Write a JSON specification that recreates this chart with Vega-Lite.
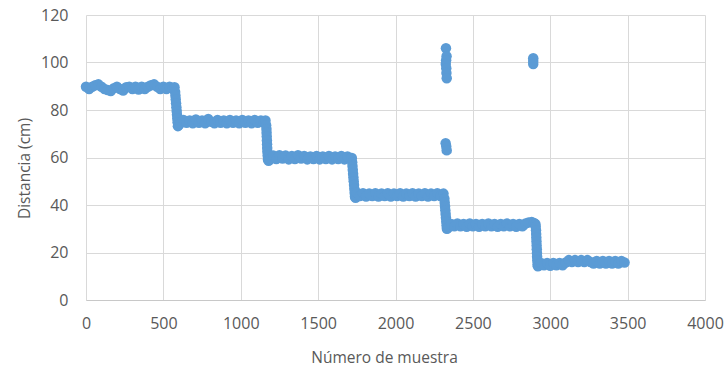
{
  "$schema": "https://vega.github.io/schema/vega-lite/v6.json",
  "width": 619,
  "height": 285,
  "autosize": {"type": "none"},
  "padding": {"left": 86, "top": 15, "right": 20, "bottom": 70},
  "background": "white",
  "config": {
    "view": {"stroke": null},
    "font": "Open Sans",
    "axis": {
      "labelColor": "#595959",
      "titleColor": "#595959",
      "labelFontSize": 16,
      "titleFontSize": 15.5,
      "titleFontWeight": "normal",
      "gridColor": "#d9d9d9",
      "gridWidth": 1,
      "ticks": false,
      "labelFlush": false
    }
  },
  "data": {
    "values": [
      {"n": 0, "d": 89.8}, {"n": 20, "d": 88.8}, {"n": 40, "d": 89.8}, {"n": 60, "d": 90.4}, {"n": 80, "d": 90.8},
      {"n": 100, "d": 89.8}, {"n": 120, "d": 88.8}, {"n": 140, "d": 88.4}, {"n": 160, "d": 88.0}, {"n": 180, "d": 89.2},
      {"n": 200, "d": 89.8}, {"n": 220, "d": 88.8}, {"n": 240, "d": 88.2}, {"n": 260, "d": 89.6}, {"n": 280, "d": 89.8},
      {"n": 300, "d": 88.8}, {"n": 320, "d": 89.8}, {"n": 340, "d": 88.6}, {"n": 360, "d": 89.8}, {"n": 380, "d": 88.8},
      {"n": 400, "d": 89.8}, {"n": 420, "d": 90.4}, {"n": 440, "d": 90.8}, {"n": 460, "d": 89.8}, {"n": 480, "d": 88.8},
      {"n": 500, "d": 89.8}, {"n": 520, "d": 88.8}, {"n": 540, "d": 89.8}, {"n": 560, "d": 89.0}, {"n": 572, "d": 89.6},
      {"n": 576, "d": 87.6}, {"n": 578, "d": 86.0}, {"n": 580, "d": 84.4}, {"n": 582, "d": 82.8}, {"n": 584, "d": 81.2},
      {"n": 586, "d": 79.6}, {"n": 588, "d": 78.0}, {"n": 590, "d": 76.4}, {"n": 592, "d": 74.8}, {"n": 594, "d": 73.2},
      {"n": 598, "d": 73.6},
      {"n": 610, "d": 74.4}, {"n": 630, "d": 75.8}, {"n": 650, "d": 74.6}, {"n": 670, "d": 75.6}, {"n": 690, "d": 74.4},
      {"n": 710, "d": 76.0}, {"n": 730, "d": 74.6}, {"n": 750, "d": 75.6}, {"n": 770, "d": 74.4}, {"n": 790, "d": 76.2},
      {"n": 810, "d": 75.0}, {"n": 830, "d": 74.4}, {"n": 850, "d": 75.8}, {"n": 870, "d": 74.6}, {"n": 890, "d": 75.6},
      {"n": 910, "d": 74.4}, {"n": 930, "d": 75.8}, {"n": 950, "d": 74.6}, {"n": 970, "d": 75.6}, {"n": 990, "d": 74.4},
      {"n": 1010, "d": 75.8}, {"n": 1030, "d": 74.6}, {"n": 1050, "d": 75.6}, {"n": 1070, "d": 74.4}, {"n": 1090, "d": 75.8},
      {"n": 1110, "d": 74.6}, {"n": 1130, "d": 75.6}, {"n": 1150, "d": 74.8}, {"n": 1160, "d": 75.6},
      {"n": 1164, "d": 73.6}, {"n": 1166, "d": 72.0}, {"n": 1167, "d": 70.4}, {"n": 1168, "d": 68.8}, {"n": 1169, "d": 67.2},
      {"n": 1170, "d": 65.6}, {"n": 1171, "d": 64.0}, {"n": 1172, "d": 62.4}, {"n": 1174, "d": 60.8}, {"n": 1176, "d": 59.2},
      {"n": 1180, "d": 58.6},
      {"n": 1190, "d": 59.2}, {"n": 1210, "d": 60.8}, {"n": 1230, "d": 59.4}, {"n": 1250, "d": 61.0}, {"n": 1270, "d": 59.6},
      {"n": 1290, "d": 60.8}, {"n": 1310, "d": 59.2}, {"n": 1330, "d": 60.6}, {"n": 1350, "d": 59.4}, {"n": 1370, "d": 61.0},
      {"n": 1390, "d": 59.6}, {"n": 1410, "d": 60.6}, {"n": 1430, "d": 59.2}, {"n": 1450, "d": 60.4}, {"n": 1470, "d": 59.4},
      {"n": 1490, "d": 60.6}, {"n": 1510, "d": 59.2}, {"n": 1530, "d": 60.4}, {"n": 1550, "d": 59.4}, {"n": 1570, "d": 60.6},
      {"n": 1590, "d": 59.2}, {"n": 1610, "d": 60.4}, {"n": 1630, "d": 59.4}, {"n": 1650, "d": 60.6}, {"n": 1670, "d": 59.2},
      {"n": 1690, "d": 60.4}, {"n": 1710, "d": 59.6}, {"n": 1718, "d": 59.8},
      {"n": 1720, "d": 58.0}, {"n": 1722, "d": 56.4}, {"n": 1724, "d": 54.8}, {"n": 1726, "d": 53.2}, {"n": 1728, "d": 51.6},
      {"n": 1730, "d": 50.0}, {"n": 1732, "d": 48.4}, {"n": 1734, "d": 46.8}, {"n": 1736, "d": 45.2}, {"n": 1738, "d": 43.6},
      {"n": 1742, "d": 43.0},
      {"n": 1750, "d": 45.2}, {"n": 1770, "d": 43.8}, {"n": 1790, "d": 45.0}, {"n": 1810, "d": 43.6}, {"n": 1830, "d": 44.8},
      {"n": 1850, "d": 43.8}, {"n": 1870, "d": 45.0}, {"n": 1890, "d": 43.6}, {"n": 1910, "d": 44.8}, {"n": 1930, "d": 43.8},
      {"n": 1950, "d": 45.0}, {"n": 1970, "d": 43.6}, {"n": 1990, "d": 44.8}, {"n": 2010, "d": 43.8}, {"n": 2030, "d": 45.0},
      {"n": 2050, "d": 43.6}, {"n": 2070, "d": 44.8}, {"n": 2090, "d": 43.8}, {"n": 2110, "d": 45.0}, {"n": 2130, "d": 43.6},
      {"n": 2150, "d": 44.8}, {"n": 2170, "d": 43.8}, {"n": 2190, "d": 45.0}, {"n": 2210, "d": 43.6}, {"n": 2230, "d": 44.8},
      {"n": 2250, "d": 43.8}, {"n": 2270, "d": 45.0}, {"n": 2290, "d": 43.8}, {"n": 2310, "d": 44.8},
      {"n": 2316, "d": 42.6}, {"n": 2318, "d": 41.0}, {"n": 2320, "d": 39.4}, {"n": 2322, "d": 37.8}, {"n": 2324, "d": 36.2},
      {"n": 2326, "d": 34.6}, {"n": 2328, "d": 33.0}, {"n": 2330, "d": 31.4}, {"n": 2332, "d": 30.0}, {"n": 2336, "d": 30.2},
      {"n": 2326, "d": 106.0}, {"n": 2330, "d": 102.6}, {"n": 2327, "d": 101.0}, {"n": 2325, "d": 99.4}, {"n": 2328, "d": 97.6},
      {"n": 2329, "d": 95.6}, {"n": 2331, "d": 93.4}, {"n": 2324, "d": 66.0}, {"n": 2328, "d": 64.6}, {"n": 2331, "d": 63.0},
      {"n": 2345, "d": 30.8}, {"n": 2360, "d": 32.0}, {"n": 2380, "d": 31.0}, {"n": 2400, "d": 32.2}, {"n": 2420, "d": 31.0},
      {"n": 2440, "d": 32.0}, {"n": 2460, "d": 30.8}, {"n": 2480, "d": 32.2}, {"n": 2500, "d": 31.0}, {"n": 2520, "d": 32.0},
      {"n": 2540, "d": 30.8}, {"n": 2560, "d": 32.0}, {"n": 2580, "d": 31.0}, {"n": 2600, "d": 32.2}, {"n": 2620, "d": 31.0},
      {"n": 2640, "d": 32.0}, {"n": 2660, "d": 30.8}, {"n": 2680, "d": 32.0}, {"n": 2700, "d": 31.0}, {"n": 2720, "d": 32.2},
      {"n": 2740, "d": 31.0}, {"n": 2760, "d": 32.0}, {"n": 2780, "d": 30.8}, {"n": 2800, "d": 32.0}, {"n": 2820, "d": 31.0},
      {"n": 2840, "d": 32.2}, {"n": 2860, "d": 32.6}, {"n": 2880, "d": 32.8}, {"n": 2895, "d": 32.4}, {"n": 2904, "d": 32.0},
      {"n": 2890, "d": 101.8}, {"n": 2890, "d": 100.6}, {"n": 2890, "d": 99.4},
      {"n": 2906, "d": 31.0}, {"n": 2908, "d": 29.4}, {"n": 2909, "d": 27.8}, {"n": 2910, "d": 26.2}, {"n": 2911, "d": 24.6},
      {"n": 2912, "d": 23.0}, {"n": 2913, "d": 21.4}, {"n": 2914, "d": 19.8}, {"n": 2915, "d": 18.2}, {"n": 2916, "d": 16.6},
      {"n": 2918, "d": 15.0}, {"n": 2920, "d": 14.2},
      {"n": 2925, "d": 14.4}, {"n": 2940, "d": 15.6}, {"n": 2960, "d": 14.6}, {"n": 2980, "d": 15.6}, {"n": 3000, "d": 14.4},
      {"n": 3020, "d": 15.6}, {"n": 3040, "d": 14.6}, {"n": 3060, "d": 15.6}, {"n": 3080, "d": 14.6}, {"n": 3100, "d": 15.8},
      {"n": 3120, "d": 16.8}, {"n": 3140, "d": 16.0}, {"n": 3160, "d": 16.8}, {"n": 3180, "d": 16.0}, {"n": 3200, "d": 16.8},
      {"n": 3220, "d": 16.0}, {"n": 3240, "d": 16.8}, {"n": 3260, "d": 16.0}, {"n": 3280, "d": 15.4}, {"n": 3300, "d": 16.4},
      {"n": 3320, "d": 15.4}, {"n": 3340, "d": 16.4}, {"n": 3360, "d": 15.4}, {"n": 3380, "d": 16.4}, {"n": 3400, "d": 15.4},
      {"n": 3420, "d": 16.4}, {"n": 3440, "d": 15.4}, {"n": 3460, "d": 16.4}, {"n": 3480, "d": 15.8}
    ]
  },
  "mark": {"type": "point", "filled": true, "color": "#5B9BD5", "opacity": 1, "size": 110},
  "encoding": {
    "x": {
      "field": "n",
      "type": "quantitative",
      "scale": {"domain": [0, 4000], "nice": false, "zero": true},
      "axis": {
        "values": [0, 500, 1000, 1500, 2000, 2500, 3000, 3500, 4000],
        "grid": true,
        "domain": true,
        "domainColor": "#c8c8c8",
        "labelPadding": 15,
        "format": "d",
        "title": "Número de muestra",
        "titleBaseline": "alphabetic",
        "titleAlign": "center",
        "titleX": 298,
        "titleY": 62
      }
    },
    "y": {
      "field": "d",
      "type": "quantitative",
      "scale": {"domain": [0, 120], "nice": false},
      "axis": {
        "values": [0, 20, 40, 60, 80, 100, 120],
        "grid": true,
        "domain": false,
        "labelPadding": 18,
        "title": "Distancia (cm)",
        "titleAngle": -90,
        "titleBaseline": "alphabetic",
        "titleAlign": "center",
        "titleX": -57,
        "titleY": 153
      }
    }
  }
}
